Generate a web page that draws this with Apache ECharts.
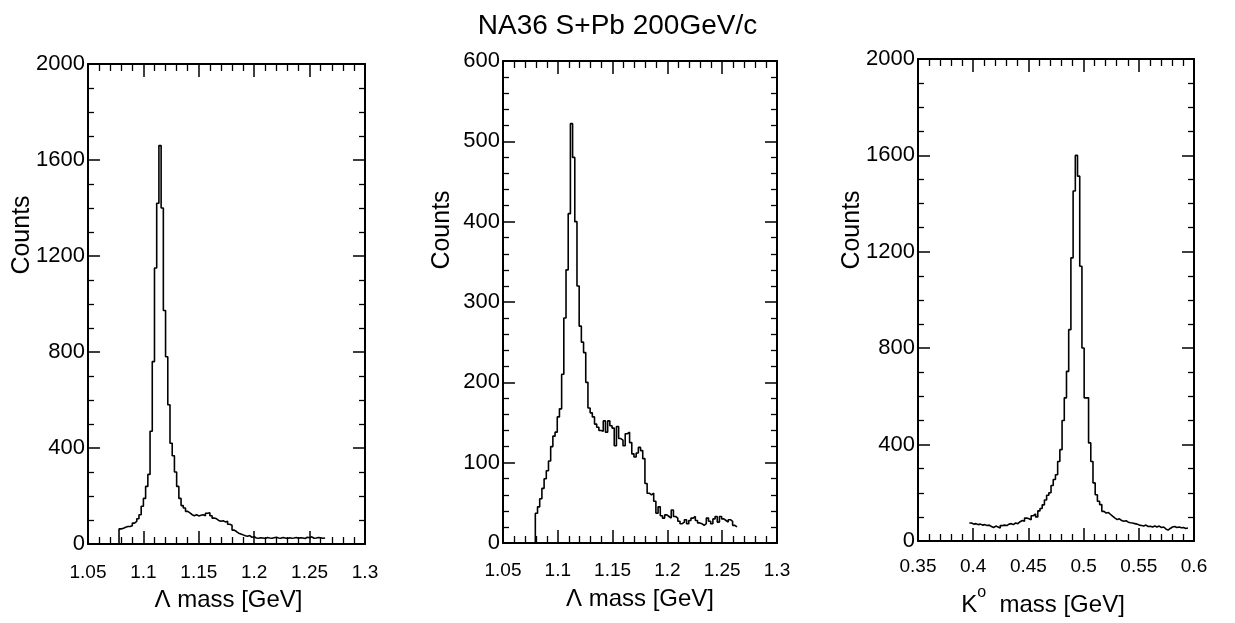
<!DOCTYPE html>
<html>
<head>
<meta charset="utf-8">
<script src="https://cdn.jsdelivr.net/npm/echarts@6/dist/echarts.min.js"></script>
<style>
html,body{margin:0;padding:0;background:#fff;}
#chart{width:1235px;height:623px;}
</style>
</head>
<body>
<div id="chart"></div>
<script>
// ---------------- DATA ----------------
const titleText = 'NA36 S+Pb 200GeV/c';

// Panel 1: Lambda mass histogram (bin left edge start, bin width, counts per bin)
const lambda1BinStart = 1.078;
const lambda1BinWidth = 0.002;
const lambda1Counts = [
  63,66,70,73,73,76,87,94,105,122,157,
  190,240,290,470,760,1150,1420,1660,1400,973,
  780,580,420,368,300,240,190,160,150,136,
  130,122,118,122,117,120,122,118,128,130,
  118,108,105,98,95,97,92,95,82,78,
  58,52,45,42,38,34,32,35,28,30,
  25,24,26,25,23,27,25,24,26,28,25,24,27,25,23,26,
  24,25,27,24,26,25,23,28,26,30,24,25,27,26,24,25
];

// Panel 2: Lambda mass histogram
const lambda2BinStart = 1.0795;
const lambda2BinWidth = 0.002;
const lambda2Counts = [
  37,45,55,68,80,90,102,120,133,138,157,
  167,210,280,340,410,522,480,400,320,270,
  250,237,200,168,162,157,148,144,140,139,
  152,138,152,146,143,121,145,130,128,121,
  136,138,125,111,107,112,119,115,105,74,
  62,60,62,52,37,45,34,31,35,33,
  31,41,33,31,27,24,26,29,24,28,
  31,33,28,25,24,22,24,31,27,24,
  30,33,26,33,30,28,26,29,27,22,20
];

// Panel 3: K0 mass histogram
const kaonBinStart = 0.3965;
const kaonBinWidth = 0.002;
const kaonCounts = [
  75,70,72,68,70,66,68,64,66,60,56,
  62,58,54,64,66,64,70,72,68,75,
  72,80,85,82,95,92,88,105,112,100,
  125,135,150,170,190,200,230,255,275,330,
  379,500,594,704,877,1175,1452,1600,1514,1140,
  801,594,594,407,330,241,192,165,151,123,
  116,118,110,102,95,89,92,85,82,84,
  78,76,75,72,70,66,64,62,66,60,
  61,58,62,58,62,56,58,50,45,52,
  58,60,56,58,55,56,52,54
];

// Tick labels
const lambdaMassTicks = [1.05, 1.1, 1.15, 1.2, 1.25, 1.3];
const kaonMassTicks = [0.35, 0.4, 0.45, 0.5, 0.55, 0.6];
const countTicksA = [0, 400, 800, 1200, 1600, 2000];
const countTicksB = [0, 100, 200, 300, 400, 500, 600];

// ---------------- BUILD ----------------
const SANS = "'Liberation Sans', Arial, sans-serif";

function r6(v){ return Math.round(v*1e6)/1e6; }
function histPoints(start, width, counts, fromZero){
  const pts = [];
  if (fromZero) pts.push([start, 0]);
  counts.forEach((c,i)=>pts.push([r6(start + i*width), c]));
  pts.push([r6(start + counts.length*width), counts[counts.length-1]]);
  return pts;
}

const panels = [
  {grid:{left:88, top:64, width:277, height:480}, xt:lambdaMassTicks, yt:countTicksA, xMinor:5, yMinor:4,
   name:'Λ mass [GeV]', xMargin:19, namePad:[0,0,0,4], data:histPoints(lambda1BinStart, lambda1BinWidth, lambda1Counts, true)},
  {grid:{left:503, top:61, width:274, height:482}, xt:lambdaMassTicks, yt:countTicksB, xMinor:5, yMinor:5,
   name:'Λ mass [GeV]', xMargin:18, namePad:[0,0,0,0], data:histPoints(lambda2BinStart, lambda2BinWidth, lambda2Counts, true)},
  {grid:{left:918, top:59, width:276, height:482}, xt:kaonMassTicks, yt:countTicksA, xMinor:5, yMinor:4,
   name:'{k|K}{s|o}{k|  mass [GeV]}', xMargin:16, namePad:[0,26,0,0], data:histPoints(kaonBinStart, kaonBinWidth, kaonCounts, false)}
];

const lineBlack = {color:'#000', width:2};
const grids = [], xAxes = [], yAxes = [], series = [];
panels.forEach((p, i) => {
  grids.push(Object.assign({containLabel:false}, p.grid));
  const xmin = p.xt[0], xmax = p.xt[p.xt.length-1], xint = r6(p.xt[1]-p.xt[0]);
  const ymin = p.yt[0], ymax = p.yt[p.yt.length-1], yint = p.yt[1]-p.yt[0];
  const xCommon = {type:'value', gridIndex:i, min:xmin, max:xmax, interval:xint,
    axisLine:{show:true, onZero:false, lineStyle:lineBlack},
    axisTick:{show:true, inside:true, length:13, lineStyle:{color:'#000', width:1.5}},
    minorTick:{show:true, splitNumber:p.xMinor, length:7, lineStyle:{color:'#000', width:1.3}},
    splitLine:{show:false}, minorSplitLine:{show:false}};
  xAxes.push(Object.assign({}, xCommon, {position:'bottom',
    axisLabel:{show:true, color:'#000', fontFamily:SANS, fontSize:19, margin:p.xMargin,
      formatter:v => String(r6(v))},
    name:p.name, nameLocation:'middle', nameGap:44,
    nameTextStyle:{color:'#000', fontFamily:SANS, fontSize:24, padding:p.namePad,
      rich:{k:{fontFamily:SANS, fontSize:24, color:'#000', lineHeight:32, verticalAlign:'bottom'},
            s:{fontFamily:SANS, fontSize:16, color:'#000', verticalAlign:'top', lineHeight:32}}}}));
  xAxes.push(Object.assign({}, xCommon, {position:'top', axisLabel:{show:false}}));
  const yCommon = {type:'value', gridIndex:i, min:ymin, max:ymax, interval:yint,
    axisLine:{show:true, onZero:false, lineStyle:lineBlack},
    axisTick:{show:true, inside:true, length:12, lineStyle:{color:'#000', width:1.5}},
    minorTick:{show:true, splitNumber:p.yMinor, length:6, lineStyle:{color:'#000', width:1.3}},
    splitLine:{show:false}, minorSplitLine:{show:false}};
  yAxes.push(Object.assign({}, yCommon, {position:'left',
    axisLabel:{show:true, color:'#000', fontFamily:SANS, fontSize:22, margin:3,
      formatter:v => String(v)}}));
  yAxes.push(Object.assign({}, yCommon, {position:'right', axisLabel:{show:false}}));
  series.push({type:'line', xAxisIndex:2*i, yAxisIndex:2*i, data:p.data, step:'end',
    showSymbol:false, symbol:'none', silent:true, animation:false,
    lineStyle:{color:'#000', width:1.6}, emphasis:{disabled:true}});
});

const countsLabels = [{x:22, y:235}, {x:442, y:230}, {x:852, y:230}].map(pos => ({
  type:'text', x:pos.x, y:pos.y, rotation:Math.PI/2, silent:true,
  style:{text:'Counts', fontFamily:SANS, fontSize:25, fill:'#000', align:'center', verticalAlign:'middle'}
}));

const chart = echarts.init(document.getElementById('chart'), null, {renderer:'canvas'});
chart.setOption({
  backgroundColor:'#fff',
  animation:false,
  title:{text:titleText, left:'center', top:7,
    textStyle:{fontFamily:SANS, fontSize:28, fontWeight:'normal', color:'#000'}},
  grid:grids, xAxis:xAxes, yAxis:yAxes, series:series,
  graphic:countsLabels
});
</script>
</body>
</html>
